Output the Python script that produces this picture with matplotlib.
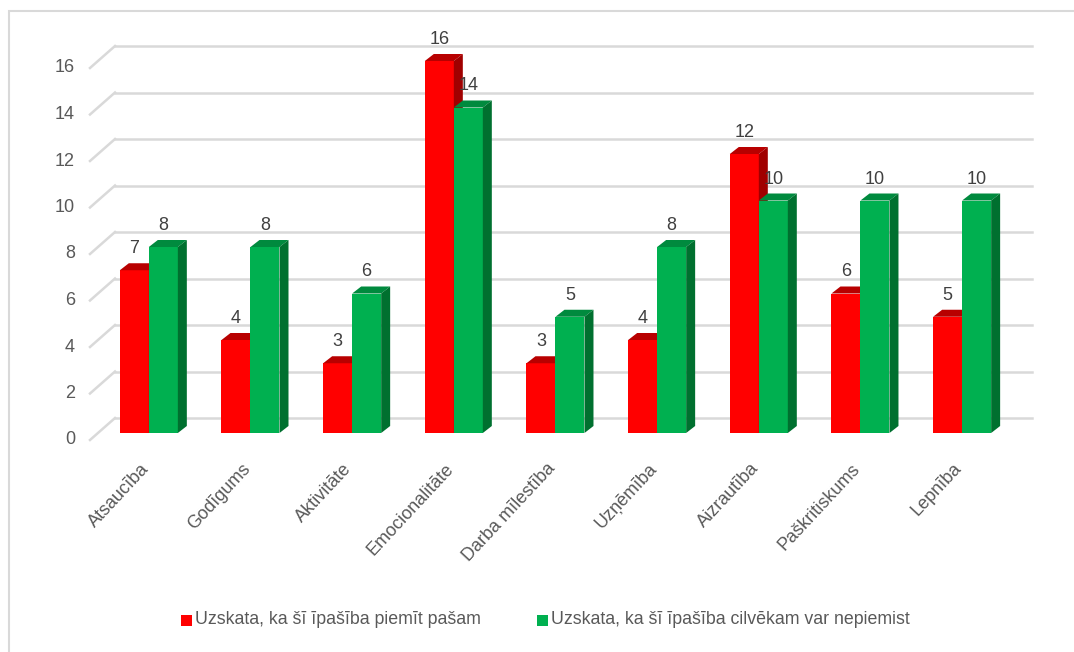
import matplotlib.pyplot as plt
from matplotlib.patches import Polygon, Rectangle
import numpy as np

plt.rcParams['font.family'] = ['Liberation Sans', 'DejaVu Sans']

categories = ['Atsaucība', 'Godīgums', 'Aktivitāte', 'Emocionalitāte', 'Darba mīlestība',
              'Uzņēmība', 'Aizrautība', 'Paškritiskums', 'Lepnība']
pasam = [7, 4, 3, 16, 3, 4, 12, 6, 5]
citiem = [8, 8, 6, 14, 5, 8, 10, 10, 10]
series_names = ['Uzskata, ka šī īpašība piemīt pašam',
                'Uzskata, ka šī īpašība cilvēkam var nepiemist']
yticks = [0, 2, 4, 6, 8, 10, 12, 14, 16]

W, H = 1074, 652
fig = plt.figure(figsize=(W / 100, H / 100), dpi=100)

# bar plane in pixels
left_px, right_px, top_px, bottom_px = 98, 1015, 61, 433
ax = fig.add_axes([left_px / W, 1 - bottom_px / H, (right_px - left_px) / W, (bottom_px - top_px) / H])
xmin, xmax = -0.5, 8.52
ax.set_xlim(xmin, xmax)
ax.set_ylim(0, 16)
ax.axis('off')

ux = (xmax - xmin) / (right_px - left_px)  # data per px
uy = 16 / (bottom_px - top_px)

grid_c = '#d9d9d9'
txt_c = '#595959'

# back wall and diagonal gridlines
bdx, bdy = 17 * ux, 15 * uy
fdx, fdy = -8 * ux, -7 * uy
for v in yticks:
    ax.plot([xmin + bdx, xmax + bdx], [v + bdy, v + bdy], color=grid_c, lw=1.8, clip_on=False, zorder=0)
    ax.plot([xmin + fdx, xmin + bdx], [v + fdy, v + bdy], color=grid_c, lw=1.8, clip_on=False, zorder=0)
    ax.text(xmin + fdx - 15 * ux, v + fdy, str(v), ha='right', va='center', fontsize=13,
            color=txt_c, clip_on=False)

x = np.arange(len(categories))
w = 29 * ux
ddx, ddy = 9 * ux, 7 * uy


def draw_bars(xs, vals, front, top, side, z):
    ax.bar(xs, vals, w, color=front, zorder=z)
    for xc, v in zip(xs, vals):
        x0, x1 = xc - w / 2, xc + w / 2
        ax.add_patch(Polygon([(x0, v), (x0 + ddx, v + ddy), (x1 + ddx, v + ddy), (x1, v)],
                             closed=True, facecolor=top, edgecolor='none', zorder=z, clip_on=False))
        ax.add_patch(Polygon([(x1, 0), (x1, v), (x1 + ddx, v + ddy), (x1 + ddx, ddy)],
                             closed=True, facecolor=side, edgecolor='none', zorder=z, clip_on=False))


draw_bars(x - w / 2, pasam, '#ff0000', '#b80000', '#a00000', 2)
draw_bars(x + w / 2, citiem, '#00b050', '#008a3e', '#00702f', 3)

for xc, v in zip(x - w / 2, pasam):
    ax.text(xc, v + 13 * uy, str(v), ha='center', va='bottom', fontsize=13, color='#404040', zorder=5)
for xc, v in zip(x + w / 2, citiem):
    ax.text(xc, v + 13 * uy, str(v), ha='center', va='bottom', fontsize=13, color='#404040', zorder=5)

# category labels
for xc, name in zip(x, categories):
    ax.text(xc - 3 * ux, -33 * uy, name, ha='right', va='center', rotation=47, rotation_mode='anchor',
            fontsize=13, color=txt_c, clip_on=False)

# legend
leg_y = 1 - 620 / H
for lx, col, name in [(181, '#ff0000', series_names[0]), (537, '#00b050', series_names[1])]:
    fig.patches.append(Rectangle((lx / W, leg_y - 5.5 / H), 11 / W, 11 / H, transform=fig.transFigure,
                                 facecolor=col, edgecolor='none'))
    fig.text((lx + 14) / W, leg_y, name, ha='left', va='center', fontsize=12.8, color=txt_c)

# outer frame
fig.patches.append(Rectangle((9 / W, -0.05), 1.1, 1 - 11 / H + 0.05, transform=fig.transFigure,
                             facecolor='none', edgecolor='#d9d9d9', lw=1.5))

fig.savefig('out.png', dpi=100)
